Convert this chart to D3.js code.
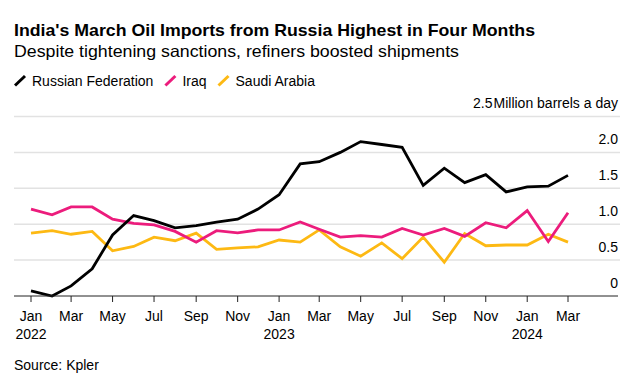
<!DOCTYPE html>
<html>
<head>
<meta charset="utf-8">
<script src="https://cdn.jsdelivr.net/npm/d3@7"></script>
<style>
  body { margin: 0; background: #fff; }
  svg { display: block; font-family: "Liberation Sans", Arial, sans-serif; }
</style>
</head>
<body>
<svg width="635" height="385"></svg>
<script>
const svg = d3.select("svg")
const width = +svg.attr("width")
const height = +svg.attr("height")

// monthly imports, million barrels a day
const months = ["2022-01","2022-02","2022-03","2022-04","2022-05","2022-06","2022-07","2022-08","2022-09",
  "2022-10","2022-11","2022-12","2023-01","2023-02","2023-03","2023-04","2023-05","2023-06","2023-07",
  "2023-08","2023-09","2023-10","2023-11","2023-12","2024-01","2024-02","2024-03"]
const russia = [0.07, 0.0, 0.14, 0.38, 0.85, 1.12, 1.05, 0.95, 0.98, 1.03, 1.07, 1.21, 1.41, 1.84, 1.87,
  2.0, 2.15, 2.11, 2.07, 1.54, 1.78, 1.58, 1.69, 1.45, 1.52, 1.53, 1.68]
const iraq = [1.21, 1.13, 1.24, 1.24, 1.07, 1.01, 0.99, 0.90, 0.75, 0.91, 0.88, 0.92, 0.92, 1.03, 0.93,
  0.82, 0.84, 0.82, 0.94, 0.85, 0.94, 0.83, 1.02, 0.95, 1.19, 0.76, 1.16]
const saudi = [0.875, 0.91, 0.86, 0.90, 0.63, 0.69, 0.82, 0.77, 0.875, 0.65, 0.67, 0.685, 0.78, 0.75, 0.92,
  0.685, 0.555, 0.74, 0.52, 0.82, 0.47, 0.87, 0.70, 0.71, 0.71, 0.86, 0.75]
const yTicks = [0, 0.5, 1.0, 1.5, 2.0, 2.5]
const monthNames = ["Jan","Feb","Mar","Apr","May","Jun","Jul","Aug","Sep","Oct","Nov","Dec"]

const series = [
  {name: "Russian Federation", values: russia, color: "#000000"},
  {name: "Iraq", values: iraq, color: "#ec1c7c"},
  {name: "Saudi Arabia", values: saudi, color: "#fdb913"}
]

const parse = d3.timeParse("%Y-%m")
const dates = months.map(parse)

const x = d3.scaleTime()
  .domain(d3.extent(dates))
  .range([31, 568])
const y = d3.scaleLinear()
  .domain([0, 2.5])
  .range([296, 116.5])

const left = 14, right = 620

// title block
svg.append("text")
  .attr("x", 14).attr("y", 36)
  .attr("font-size", 17).attr("font-weight", "bold").attr("fill", "#000")
  .attr("textLength", 521).attr("lengthAdjust", "spacingAndGlyphs")
  .text("India's March Oil Imports from Russia Highest in Four Months")
svg.append("text")
  .attr("x", 14).attr("y", 57)
  .attr("font-size", 16.5).attr("fill", "#000")
  .attr("textLength", 445).attr("lengthAdjust", "spacingAndGlyphs")
  .text("Despite tightening sanctions, refiners boosted shipments")

// legend
let lx = 15
series.forEach(s => {
  svg.append("line")
    .attr("x1", lx).attr("y1", 85.5).attr("x2", lx + 10).attr("y2", 76)
    .attr("stroke", s.color).attr("stroke-width", 3)
  const t = svg.append("text")
    .attr("x", lx + 17).attr("y", 85.5)
    .attr("font-size", 14).attr("fill", "#000")
    .text(s.name)
  lx += 17 + t.node().getComputedTextLength() + 12
})

// grid
svg.append("g")
  .selectAll("line")
  .data(yTicks.filter(d => d > 0))
  .join("line")
  .attr("x1", left).attr("x2", right)
  .attr("y1", d => y(d)).attr("y2", d => y(d))
  .attr("stroke", "#e2e2e2").attr("stroke-width", 1.5)

svg.append("g")
  .selectAll("text")
  .data(yTicks)
  .join("text")
  .attr("x", 618).attr("y", d => y(d) - 8.5)
  .attr("text-anchor", "end")
  .attr("font-size", 14).attr("fill", "#000")
  .each(function (d) {
    const t = d3.select(this)
    t.append("tspan").text(d === 0 ? "0" : d3.format(".1f")(d))
    if (d === 2.5) t.append("tspan").attr("dx", 1).text("Million barrels a day")
  })

// lines
const line = d3.line()
  .x((d, i) => x(dates[i]))
  .y(d => y(d))

svg.append("g")
  .selectAll("path")
  .data(series.slice().reverse())
  .join("path")
  .attr("fill", "none")
  .attr("stroke", d => d.color)
  .attr("stroke-width", 2.8)
  .attr("stroke-linejoin", "miter")
  .attr("d", d => line(d.values))

// x axis
svg.append("line")
  .attr("x1", left).attr("x2", right - 2)
  .attr("y1", y(0)).attr("y2", y(0))
  .attr("stroke", "#222").attr("stroke-width", 1)

const tickDates = dates.filter(d => d.getMonth() % 2 === 0)
const xg = svg.append("g")
  .selectAll("g")
  .data(tickDates)
  .join("g")
  .attr("transform", d => `translate(${x(d)},0)`)
xg.append("line")
  .attr("y1", y(0)).attr("y2", y(0) + 6)
  .attr("stroke", "#222").attr("stroke-width", 1)
xg.append("text")
  .attr("y", 321).attr("text-anchor", "middle")
  .attr("font-size", 14).attr("fill", "#000")
  .text(d => monthNames[d.getMonth()])
xg.filter(d => d.getMonth() === 0)
  .append("text")
  .attr("y", 338.5).attr("text-anchor", "middle")
  .attr("font-size", 14).attr("fill", "#000")
  .text(d => d.getFullYear())

svg.append("text")
  .attr("x", 14).attr("y", 369.5)
  .attr("font-size", 14).attr("fill", "#000")
  .text("Source: Kpler")
</script>
</body>
</html>
